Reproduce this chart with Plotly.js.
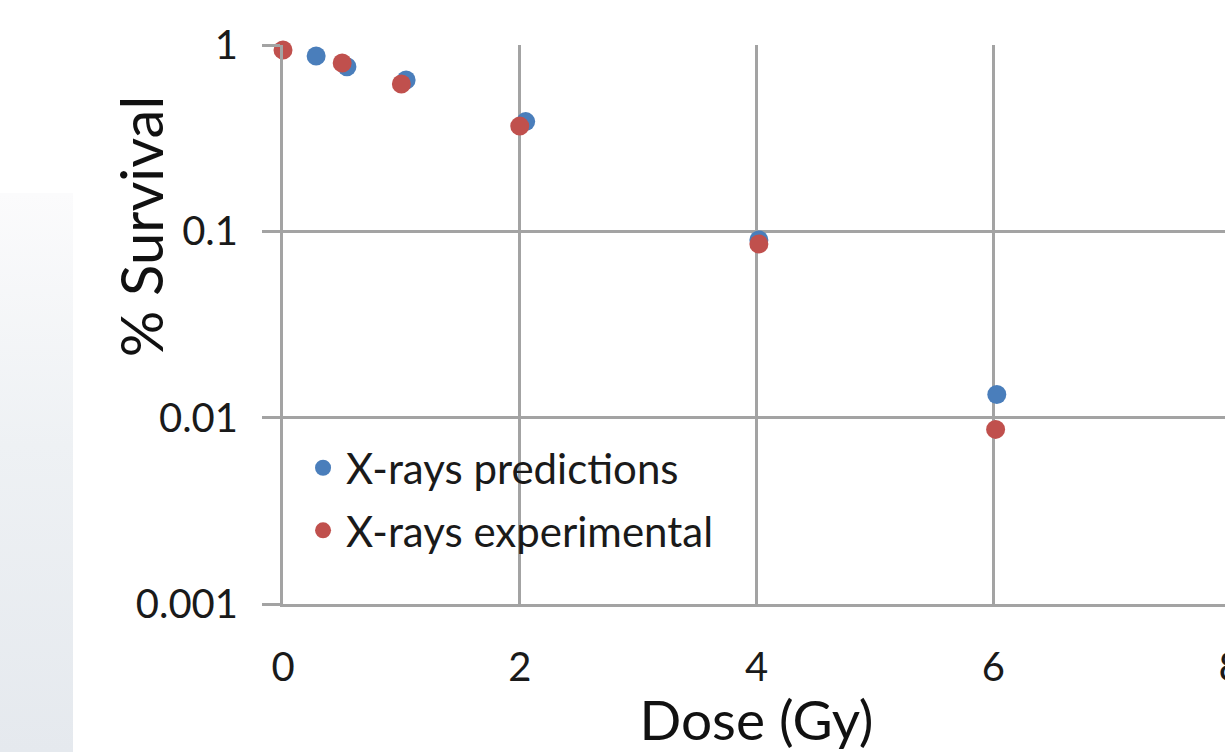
<!DOCTYPE html>
<html>
<head>
<meta charset="utf-8">
<script src="https://cdn.plot.ly/plotly-3.0.1.min.js"></script>
<style>
  html, body { margin: 0; padding: 0; width: 1225px; height: 752px; overflow: hidden; background: #ffffff; position: relative; }
  #strip { position: absolute; left: 0; top: 193px; width: 73px; height: 559px;
           background: linear-gradient(to bottom, #fbfbfc 0%, #eef1f4 45%, #e5e9ee 100%); }
  #chart { position: absolute; left: 0; top: 0; width: 1260px; height: 752px; }
</style>
</head>
<body>
<div id="strip"></div>
<div id="chart"></div>
<script>
// Data
const predDose = [0.28, 0.54, 1.04, 2.05, 4.02, 6.03];
const predSurvival = [0.873, 0.765, 0.649, 0.388, 0.0898, 0.0133];
const expDose = [0, 0.5, 1.0, 2.0, 4.02, 6.02];
const expSurvival = [0.94, 0.80, 0.617, 0.367, 0.0855, 0.00865];
const seriesNames = ["X-rays predictions", "X-rays experimental"];
const xTicks = [0, 2, 4, 6, 8];
const yTicks = [1, 0.1, 0.01, 0.001];
const yTickText = ["1", "0.1", "0.01", "0.001"];
const xTitle = "Dose (Gy)";
const yTitle = "% Survival";

const font = "Lato, 'Open Sans', sans-serif";
const grid = "#a3a3a3";

const traces = [
  { x: predDose, y: predSurvival, name: seriesNames[0], type: "scatter", mode: "markers",
    legendgroup: "a", marker: { color: "#4a7ebb", size: 19 }, cliponaxis: false },
  { x: expDose, y: expSurvival, name: seriesNames[1], type: "scatter", mode: "markers",
    legendgroup: "b", marker: { color: "#c0504d", size: 19 }, cliponaxis: false }
];

const layout = {
  width: 1260, height: 752,
  margin: { l: 283, r: 30, t: 45, b: 148 },
  paper_bgcolor: "rgba(0,0,0,0)",
  plot_bgcolor: "rgba(0,0,0,0)",
  font: { family: font, color: "#1a1a1a", size: 40 },
  showlegend: true,
  legend: { x: 0.018, y: 0.187, xanchor: "left", yanchor: "middle",
            bgcolor: "rgba(0,0,0,0)", borderwidth: 0, traceorder: "grouped",
            itemwidth: 36, tracegroupgap: 5,
            font: { family: font, size: 42, color: "#1a1a1a" } },
  xaxis: {
    range: [0, 8], tickvals: xTicks, ticktext: xTicks.map(String),
    showgrid: true, gridcolor: grid, gridwidth: 3,
    showline: true, linecolor: grid, linewidth: 3,
    zeroline: false, ticks: "", ticklabelstandoff: 26,
    tickfont: { family: font, size: 40, color: "#1a1a1a" },
    title: { text: xTitle, font: { family: font, size: 55, color: "#111" }, standoff: 20 },
    fixedrange: true
  },
  yaxis: {
    type: "log", range: [-3, 0], tickvals: yTicks, ticktext: yTickText,
    showgrid: true, gridcolor: grid, gridwidth: 3,
    showline: true, linecolor: grid, linewidth: 3,
    zeroline: false, ticks: "outside", ticklen: 18, tickwidth: 3, tickcolor: grid,
    ticklabelstandoff: 16,
    tickfont: { family: font, size: 40, color: "#1a1a1a" },
    fixedrange: true
  },
  annotations: [
    { text: yTitle, xref: "paper", yref: "paper", x: -0.151, y: 0.674,
      xanchor: "center", yanchor: "middle", textangle: -90, showarrow: false,
      font: { family: font, size: 58, color: "#111" } }
  ],
  hovermode: false
};

Plotly.newPlot("chart", traces, layout, { displayModeBar: false, staticPlot: true });
</script>
</body>
</html>
